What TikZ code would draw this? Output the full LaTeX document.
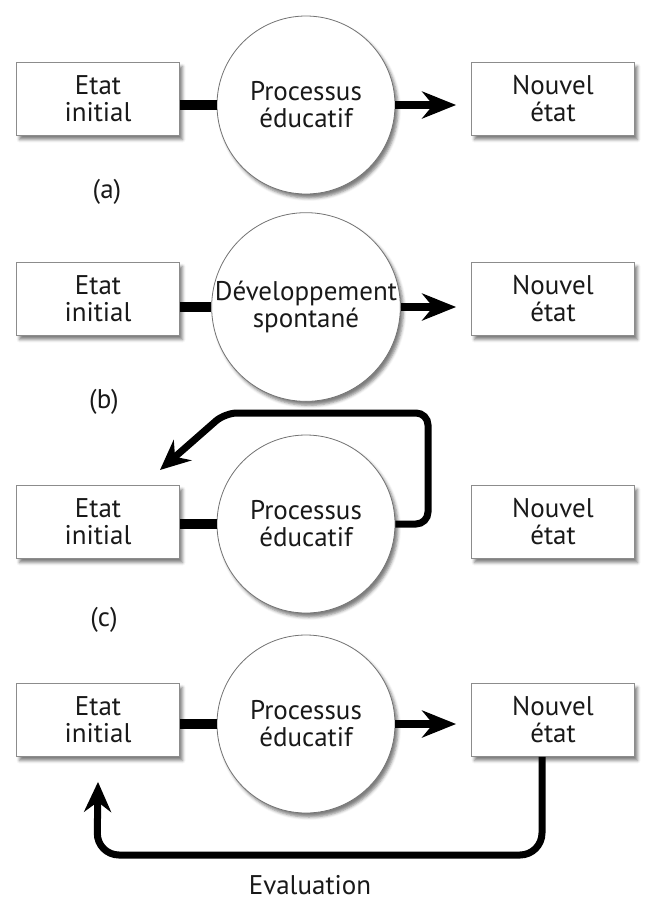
\documentclass[tikz,border=0pt]{standalone}
\usepackage{fontspec}
\setmainfont{PT Sans}
\usetikzlibrary{arrows.meta, shadows.blur}

\begin{document}
\begin{tikzpicture}[x=1pt,y=-1pt,
	ombre/.style={blur shadow={shadow xshift=3pt,shadow yshift=-4pt,shadow blur radius=3pt,shadow opacity=50}},
	etat/.style={draw=black!45,line width=0.8pt,fill=white,ombre,minimum width=163pt,minimum height=73pt,align=center,text=black!90,font=\fontsize{27}{27}\selectfont},
	proc/.style={circle,draw=black!55,line width=0.8pt,fill=white,ombre,minimum size=178pt,inner sep=0pt,align=center,text=black!90,font=\fontsize{27}{27}\selectfont},
	lab/.style={text=black!90,font=\fontsize{27}{27}\selectfont},
	barre/.style={line width=10pt},
	fleche/.style={line width=8pt,shorten >=15pt,-{Stealth[length=34pt,width=27pt,inset=11pt]}},
	boucle/.style={line width=7pt,-{Stealth[length=30pt,width=27pt,inset=10pt]}}]
	\useasboundingbox (0,0) rectangle (646,903);

	% (a)
	\node[etat] (e_1) at (98,99) {Etat\\initial};
	\node[proc] (p_1) at (306,105) {Processus\\éducatif};
	\node[etat] (n_1) at (553,99) {Nouvel\\état};
	\node[lab] (l_1) at (107,192) {(a)};
	\draw[barre] (e_1.east |- p_1.center) -- (p_1.west);
	\draw[fleche] (p_1.east) -- (n_1.west |- p_1.center);

	% (b)
	\node[etat] (e_2) at (98,299) {Etat\\initial};
	\node[proc] (p_2) at (306,307) {Développement\\spontané};
	\node[etat] (n_2) at (553,299) {Nouvel\\état};
	\node[lab] (l_2) at (104,402) {(b)};
	\draw[barre] (e_2.east |- p_2.center) -- (p_2.west);
	\draw[fleche] (p_2.east) -- (n_2.west |- p_2.center);

	% (c)
	\node[etat] (e_3) at (98,522) {Etat\\initial};
	\node[proc] (p_3) at (306,524) {Processus\\éducatif};
	\node[etat] (n_3) at (553,522) {Nouvel\\état};
	\node[lab] (l_3) at (104,620) {(c)};
	\coordinate (r_3) at (160,470);
	\draw[barre] (e_3.east |- p_3.center) -- (p_3.west);
	\draw[boucle,rounded corners=12pt] (p_3.east) -| (428,413) -- (225,413) -- (r_3);

	% (d)
	\node[etat] (e_4) at (98,720) {Etat\\initial};
	\node[proc] (p_4) at (306,724) {Processus\\éducatif};
	\node[etat] (n_4) at (553,720) {Nouvel\\état};
	\node[lab] (l_4) at (310,885) {Evaluation};
	\coordinate (r_4) at ([yshift=-25pt]e_4.south);
	\coordinate (b_4) at (97,855);
	\draw[barre] (e_4.east |- p_4.center) -- (p_4.west);
	\draw[fleche] (p_4.east) -- (n_4.west |- p_4.center);
	\draw[boucle,rounded corners=22pt] ([xshift=-11pt]n_4.south) |- (b_4) -- (r_4);
\end{tikzpicture}
\end{document}
